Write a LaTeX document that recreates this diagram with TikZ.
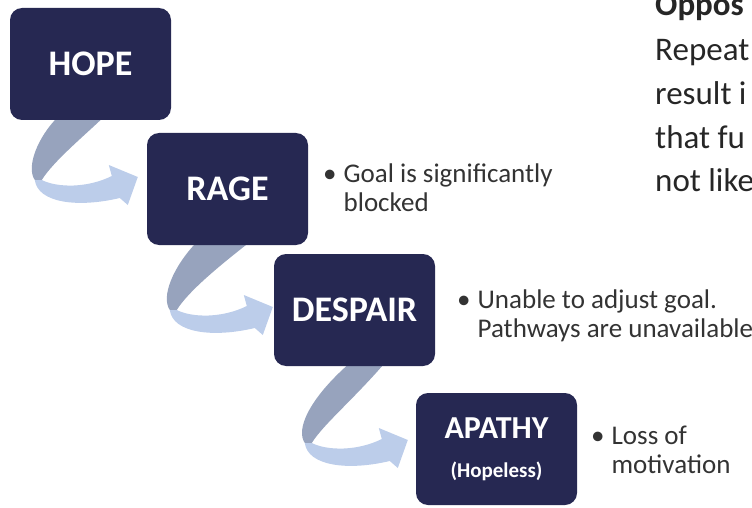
\documentclass[tikz,border=0pt]{standalone}
\usepackage{fontspec}
\setmainfont{Carlito}
\usetikzlibrary{calc,backgrounds}

\definecolor{boxnavy}{HTML}{262852}
\definecolor{ribbondark}{HTML}{97A3BD}
\definecolor{ribbonlight}{HTML}{BCCDEA}
\definecolor{notegray}{HTML}{333333}
\definecolor{sidegray}{HTML}{262626}

\tikzset{
  stagebox/.style={fill=boxnavy, rounded corners=12pt, minimum width=161pt, minimum height=112pt,
    inner sep=0pt, align=center, text=white, font=\bfseries\fontsize{36}{42}\selectfont},
  note/.style={anchor=base west, inner sep=0pt, text=notegray, font=\fontsize{27}{29}\selectfont},
  sidetext/.style={anchor=base west, inner sep=0pt, text=sidegray, font=\fontsize{33}{40}\selectfont},
}

% curled ribbon arrow: #1 tip, #2 top y, #3 top left x, #4 top right x (all from the tip)
\newcommand{\twistarrow}[4]{%
  \begin{scope}[shift={#1}]
    \fill[ribbondark] (#3,#2) .. controls (-100,-40) and (-112,-10) .. (-103,3)
      -- (-96,3) .. controls (-85,-15) and (-55,-40) .. (#4,#2) -- cycle;
    \fill[ribbonlight] (-103,3) .. controls (-100,26) and (-60,31) .. (-18,21)
      -- (-10,28) -- (0,0) -- (-29,-12) -- (-26,-1)
      .. controls (-50,11) and (-80,11) .. (-96,3) -- cycle;
  \end{scope}}

\begin{document}
\begin{tikzpicture}[x=1pt,y=-1pt]
  \clip (0,0) rectangle (752,508);

  % stages
  \node[stagebox] (hope) at (90.5,64) {HOPE};
  \node[stagebox] (rage) at (227.5,189) {RAGE};
  \node[stagebox] (despair) at (354.5,310) {DESPAIR};
  \node[stagebox, font=\bfseries\fontsize{32}{37}\selectfont] (apathy) at (496.5,449)
    {APATHY\\[2pt]{\fontsize{21}{24}\selectfont (Hopeless)}};

  % ribbons between stages
  \begin{scope}[on background layer]
    \twistarrow{($(rage.west)+(-9,-12)$)}{-60}{-80}{-34}
    \twistarrow{($(despair.west)+(-1,-3)$)}{-65}{-76}{-23}
    \twistarrow{($(apathy.west)+(-8,-9)$)}{-77}{-58}{-23}
  \end{scope}

  % notes
  \node[note] (goal) at (323,182)
    {\begin{tabular}[t]{@{}l@{\hspace{7pt}}l@{}}\textbullet & Goal is significantly\\ & blocked\end{tabular}};
  \node[note] (adjust) at (457,308)
    {\begin{tabular}[t]{@{}l@{\hspace{7pt}}l@{}}\textbullet & Unable to adjust goal.\\ & Pathways are unavailable\end{tabular}};
  \node[note] (loss) at (591,444)
    {\begin{tabular}[t]{@{}l@{\hspace{7pt}}l@{}}\textbullet & Loss of\\ & motivation\end{tabular}};

  % side text, cut by the slide edge
  \node[sidetext, font=\bfseries\fontsize{33}{40}\selectfont] (oppos) at (655,16) {Oppos};
  \node[sidetext] (repeat) at (655,61) {Repeat};
  \node[sidetext] (result) at (655,104.5) {result i};
  \node[sidetext] (future) at (655,148) {that fu};
  \node[sidetext] (likely) at (655,191.5) {not like};
\end{tikzpicture}
\end{document}
